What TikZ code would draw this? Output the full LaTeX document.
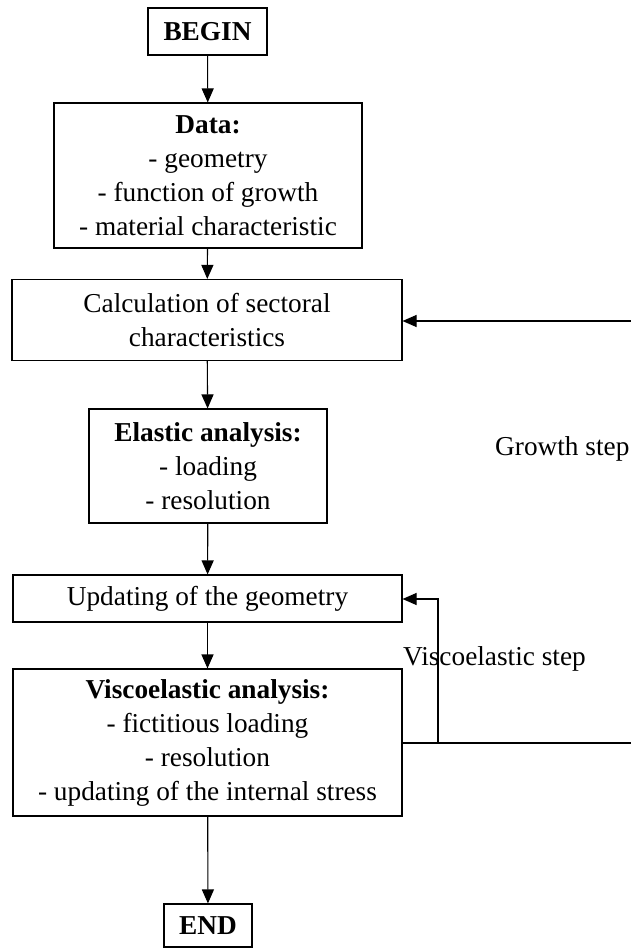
\documentclass[tikz,border=0pt]{standalone}
\usepackage{fontspec}
\setmainfont{Liberation Serif}
\usetikzlibrary{arrows.meta}
\begin{document}
\begin{tikzpicture}[x=1pt,y=-1pt,
  box/.style={draw,line width=1.1pt,inner sep=0pt,align=center,font=\fontsize{27.3}{34}\selectfont},
  lbl/.style={inner sep=0pt,font=\fontsize{27.3}{34}\selectfont},
  arr/.style={line width=1.1pt,-{Triangle[length=14pt,width=12pt]}},
  ln/.style={line width=1.1pt}]
\useasboundingbox (0,0) rectangle (631,950);
\node[box,minimum width=119pt,minimum height=47pt] (begin) at (207.5,31.5) {\textbf{BEGIN}};
\node[box,minimum width=308pt,minimum height=145pt] (data) at (208,175.5) {\textbf{Data:}\\- geometry\\- function of growth\\- material characteristic};
\node[box,minimum width=390pt,minimum height=81pt] (calc) at (207,320) {Calculation of sectoral\\characteristics};
\node[box,minimum width=238pt,minimum height=114pt] (elas) at (208,466) {\textbf{Elastic analysis:}\\- loading\\- resolution};
\node[box,minimum width=389pt,minimum height=47pt] (upd) at (207.5,598.5) {Updating of the geometry};
\node[box,minimum width=389pt,minimum height=147pt] (visco) at (207.5,742.5) {\textbf{Viscoelastic analysis:}\\- fictitious loading\\- resolution\\- updating of the internal stress};
\node[box,minimum width=88pt,minimum height=43pt] (end) at (208,925.5) {\textbf{END}};
\node[lbl,anchor=base west] (gs) at (495,455) {Growth step};
\node[lbl,anchor=base west] (vs) at (403,665) {Viscoelastic step};
\draw[arr] (begin) -- (data);
\draw[arr] (data) -- (calc);
\draw[arr] (calc) -- (elas);
\draw[arr] (elas) -- (upd);
\draw[arr] (upd) -- (visco);
\draw[arr] (visco) -- (end);
\coordinate (gr) at (631,321);
\draw[arr] (gr) -- (gr -| calc.east);
\coordinate (vr) at (631,743);
\coordinate (vj) at (438,743);
\coordinate (vt) at (438,599);
\draw[ln] (vj -| visco.east) -- (vr);
\draw[arr] (vj) -- (vt) -- (vt -| upd.east);
\end{tikzpicture}
\end{document}
